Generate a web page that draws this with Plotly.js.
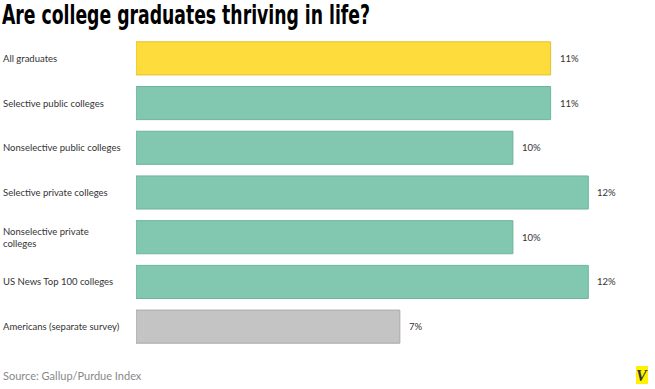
<!DOCTYPE html>
<html>
<head>
<meta charset="utf-8">
<script src="https://cdn.plot.ly/plotly-3.0.1.min.js"></script>
<style>html,body{margin:0;padding:0;background:#fff;}#chart{width:655px;height:389px;}</style>
</head>
<body>
<div id="chart"></div>
<script>
const categories = ["All graduates","Selective public colleges","Nonselective public colleges","Selective private colleges","Nonselective private<br>colleges","US News Top 100 colleges","Americans (separate survey)"];
const values = [11, 11, 10, 12, 10, 12, 7];
const valueLabels = ["11%","11%","10%","12%","10%","12%","7%"];
const fillColors = ["#FDDC3B","#82C8B0","#82C8B0","#82C8B0","#82C8B0","#82C8B0","#C4C4C4"];
const lineColors = ["#E2C232","#6DB49A","#6DB49A","#6DB49A","#6DB49A","#6DB49A","#A9A9A9"];

const L = 136, W = 490;
const ids = categories.map((c,i)=>"c"+i);

const trace = {
  type: "bar",
  orientation: "h",
  y: ids,
  x: values,
  marker: {color: fillColors, line: {color: lineColors, width: 1}},
  hoverinfo: "none"
};

const annotations = [];
categories.forEach((c,i)=>{
  annotations.push({
    xref: "paper", yref: "y", x: (1 - L)/W, y: ids[i],
    text: c, showarrow: false, xanchor: "left", align: "left",
    font: {family: "Lato, 'Open Sans', sans-serif", size: 9.5, color: "#333"}
  });
  annotations.push({
    xref: "x", yref: "y", x: values[i], y: ids[i], xshift: 7,
    text: valueLabels[i], showarrow: false, xanchor: "left",
    font: {family: "Lato, 'Open Sans', sans-serif", size: 9.5, color: "#333"}
  });
});
annotations.push({
  xref: "paper", yref: "paper", x: (1 - L)/W, y: -(376-349)/313,
  text: "Source: Gallup/Purdue Index", showarrow: false, xanchor: "left", yanchor: "middle",
  font: {family: "Lato, 'Open Sans', sans-serif", size: 11, color: "#888"}
});
annotations.push({
  xref: "paper", yref: "paper", x: (642 - L)/W, y: -(375.5-349)/313,
  text: "<b><i>V</i></b>", showarrow: false, xanchor: "center", yanchor: "middle",
  font: {family: "'Liberation Serif', serif", size: 16, color: "#333"}
});

const layout = {
  width: 655, height: 389,
  margin: {l: L, r: 655 - L - W, t: 36, b: 40},
  paper_bgcolor: "#fff", plot_bgcolor: "#fff",
  title: {
    text: "<b>Are college graduates thriving in life?</b>",
    x: 2/655, xanchor: "left", xref: "container",
    y: 1 - 15/389, yanchor: "middle", yref: "container",
    font: {family: "'DejaVu Sans Condensed', 'Liberation Sans Narrow', sans-serif", size: 26, color: "#000"}
  },
  bargap: 0.26,
  showlegend: false,
  xaxis: {range: [0, 13], visible: false, fixedrange: true},
  yaxis: {autorange: "reversed", visible: false, fixedrange: true, type: "category"},
  shapes: [{
    type: "rect", xref: "paper", yref: "paper",
    x0: (636 - L)/W, x1: (648 - L)/W, y0: -(384-349)/313, y1: -(366-349)/313,
    fillcolor: "#FFF200", line: {width: 0}, layer: "below"
  }],
  annotations: annotations
};

Plotly.newPlot("chart", [trace], layout, {displayModeBar: false, staticPlot: true}).then(function(gd){
  const t = gd.querySelector(".gtitle");
  if (t) {
    t.setAttribute("textLength", "368");
    t.setAttribute("lengthAdjust", "spacingAndGlyphs");
  }
});
</script>
</body>
</html>
